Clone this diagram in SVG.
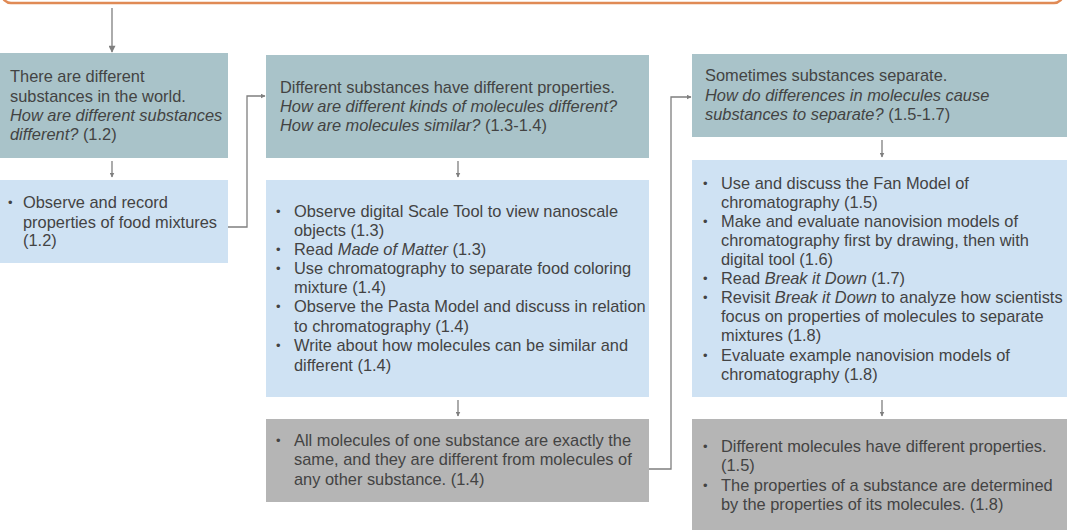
<svg xmlns="http://www.w3.org/2000/svg" width="1067" height="530" viewBox="0 0 1067 530">
  <style>
    text { font-family: "Liberation Sans", Arial, sans-serif; font-size: 16.4px; fill: #434343; }
    .q { fill: #A9C3C9; }
    .act { fill: #CFE2F3; }
    .res { fill: #B5B5B5; }
    .it { font-style: italic; }
    .bul { font-size: 13px; }
    .conn { fill: none; stroke: #7F7F7F; stroke-width: 1.3; }
  </style>
  <defs>
    <marker id="ah" viewBox="0 0 10 10" refX="9" refY="5" markerWidth="5" markerHeight="5" orient="auto" markerUnits="userSpaceOnUse">
      <path d="M0,0 L10,5 L0,10 z" fill="#7F7F7F"/>
    </marker>
    <marker id="ahBig" viewBox="0 0 10 10" refX="9" refY="5" markerWidth="8" markerHeight="7" orient="auto" markerUnits="userSpaceOnUse">
      <path d="M0,0 L10,5 L0,10 z" fill="#7F7F7F"/>
    </marker>
  </defs>
  <rect width="1067" height="530" fill="#FFFFFF"/>

  <!-- framing box above the flow -->
  <rect id="frame" x="2" y="-40" width="1061" height="43" rx="9" fill="none" stroke="#E08A55" stroke-width="2.5"/>

  <g id="connectors">
    <line class="conn" x1="112" y1="8" x2="112" y2="52" marker-end="url(#ahBig)"/>
    <line class="conn" x1="112" y1="161" x2="112" y2="177" marker-end="url(#ah)"/>
    <polyline class="conn" points="228,227 247,227 247,96 265,96" marker-end="url(#ah)"/>
    <line class="conn" x1="458" y1="161" x2="458" y2="177" marker-end="url(#ah)"/>
    <line class="conn" x1="458" y1="400" x2="458" y2="416" marker-end="url(#ah)"/>
    <polyline class="conn" points="649,469 671,469 671,97 691,97" marker-end="url(#ah)"/>
    <line class="conn" x1="882" y1="140" x2="882" y2="157" marker-end="url(#ah)"/>
    <line class="conn" x1="882" y1="400" x2="882" y2="416" marker-end="url(#ah)"/>
  </g>

  <g id="q1">
    <rect class="q" x="0" y="53" width="228" height="105"/>
    <text x="10" y="82">There are different</text>
    <text x="10" y="102">substances in the world.</text>
    <text x="10" y="121" class="it">How are different substances</text>
    <text x="10" y="140"><tspan class="it">different?</tspan> (1.2)</text>
  </g>

  <g id="act1">
    <rect class="act" x="0" y="180" width="228" height="83"/>
    <text x="8" y="207" class="bul">•</text>
    <text x="23" y="208">Observe and record</text>
    <text x="23" y="228">properties of food mixtures</text>
    <text x="23" y="246">(1.2)</text>
  </g>

  <g id="q2">
    <rect class="q" x="266" y="55" width="383" height="103"/>
    <text x="280" y="93">Different substances have different properties.</text>
    <text x="280" y="112" class="it">How are different kinds of molecules different?</text>
    <text x="280" y="131"><tspan class="it">How are molecules similar?</tspan> (1.3-1.4)</text>
  </g>

  <g id="act2">
    <rect class="act" x="266" y="180" width="383" height="217"/>
    <text x="276" y="216" class="bul">•</text>
    <text x="294" y="217">Observe digital Scale Tool to view nanoscale</text>
    <text x="294" y="236">objects (1.3)</text>
    <text x="276" y="254" class="bul">•</text>
    <text x="294" y="255">Read <tspan class="it">Made of Matter</tspan> (1.3)</text>
    <text x="276" y="273" class="bul">•</text>
    <text x="294" y="274">Use chromatography to separate food coloring</text>
    <text x="294" y="293">mixture (1.4)</text>
    <text x="276" y="311" class="bul">•</text>
    <text x="294" y="312">Observe the Pasta Model and discuss in relation</text>
    <text x="294" y="332">to chromatography (1.4)</text>
    <text x="276" y="350" class="bul">•</text>
    <text x="294" y="351">Write about how molecules can be similar and</text>
    <text x="294" y="371">different (1.4)</text>
  </g>

  <g id="res1">
    <rect class="res" x="266" y="419" width="383" height="83"/>
    <text x="276" y="445" class="bul">•</text>
    <text x="294" y="446">All molecules of one substance are exactly the</text>
    <text x="294" y="465">same, and they are different from molecules of</text>
    <text x="294" y="485">any other substance. (1.4)</text>
  </g>

  <g id="q3">
    <rect class="q" x="692" y="54" width="375" height="83"/>
    <text x="705" y="81">Sometimes substances separate.</text>
    <text x="705" y="101" class="it">How do differences in molecules cause</text>
    <text x="705" y="120"><tspan class="it">substances to separate?</tspan> (1.5-1.7)</text>
  </g>

  <g id="act3">
    <rect class="act" x="692" y="160" width="375" height="237"/>
    <text x="703" y="188" class="bul">•</text>
    <text x="721" y="189">Use and discuss the Fan Model of</text>
    <text x="721" y="208">chromatography (1.5)</text>
    <text x="703" y="226" class="bul">•</text>
    <text x="721" y="227">Make and evaluate nanovision models of</text>
    <text x="721" y="246">chromatography first by drawing, then with</text>
    <text x="721" y="265">digital tool (1.6)</text>
    <text x="703" y="283" class="bul">•</text>
    <text x="721" y="284">Read <tspan class="it">Break it Down</tspan> (1.7)</text>
    <text x="703" y="302" class="bul">•</text>
    <text x="721" y="303">Revisit <tspan class="it">Break it Down</tspan> to analyze how scientists</text>
    <text x="721" y="322">focus on properties of molecules to separate</text>
    <text x="721" y="341">mixtures (1.8)</text>
    <text x="703" y="360" class="bul">•</text>
    <text x="721" y="361">Evaluate example nanovision models of</text>
    <text x="721" y="380">chromatography (1.8)</text>
  </g>

  <g id="res2">
    <rect class="res" x="692" y="419" width="375" height="111"/>
    <text x="703" y="451" class="bul">•</text>
    <text x="721" y="452">Different molecules have different properties.</text>
    <text x="721" y="471">(1.5)</text>
    <text x="703" y="490" class="bul">•</text>
    <text x="721" y="491">The properties of a substance are determined</text>
    <text x="721" y="510">by the properties of its molecules. (1.8)</text>
  </g>
</svg>
